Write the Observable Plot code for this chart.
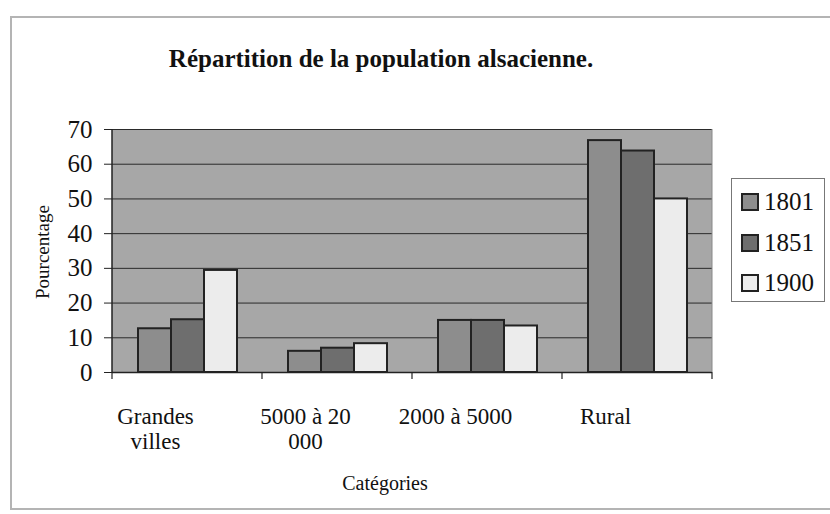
<!DOCTYPE html>
<html>
<head>
<meta charset="utf-8">
<script src="https://cdn.jsdelivr.net/npm/d3@7"></script>
<script src="https://cdn.jsdelivr.net/npm/@observablehq/plot@0.6"></script>
<style>
  html, body { margin: 0; padding: 0; background: #fff; }
  #wrap { position: relative; width: 830px; height: 514px; overflow: hidden; font-family: "Liberation Serif", "Times New Roman", serif; color: #111; }
  #border { position: absolute; left: 10px; top: 16px; width: 822px; height: 494px; border: 2px solid #b4b4b4; border-right: none; box-sizing: border-box; }
  #title { position: absolute; left: 0; width: 762px; top: 45px; text-align: center; font-weight: bold; font-size: 25px; }
  #ylabel { position: absolute; left: 43px; top: 252px; font-size: 19px; transform: translate(-50%, -50%) rotate(-90deg); white-space: nowrap; }
  #xlabel { position: absolute; left: 385px; top: 472px; font-size: 20px; transform: translateX(-50%); white-space: nowrap; }
  #legend { position: absolute; left: 731px; top: 178px; width: 94px; height: 124px; border: 1.5px solid #777; box-sizing: border-box; background: #fff; }
  .item { position: absolute; left: 9px; height: 30px; display: flex; align-items: center; font-size: 25px; font-family: "Liberation Serif", serif; }
  .sw { width: 14px; height: 14px; border: 2px solid #222; margin-right: 5px; }
  #chart { position: absolute; left: 0; top: 0; }
</style>
</head>
<body>
<div id="wrap">
  <div id="border"></div>
  <div id="title">Répartition de la population alsacienne.</div>
  <div id="chart"></div>
  <div id="ylabel">Pourcentage</div>
  <div id="xlabel">Catégories</div>
  <div id="legend"></div>
</div>
<script>
// ---- data ----
const categories = ["Grandes villes", "5000 à 20 000", "2000 à 5000", "Rural"];
const categoryLabels = ["Grandes\nvilles", "5000 à 20\n000", "2000 à 5000", "Rural"];
const years = ["1801", "1851", "1900"];
const values1801 = [12.6, 6.1, 15.0, 66.8];
const values1851 = [15.2, 7.0, 15.0, 63.8];
const values1900 = [29.4, 8.3, 13.4, 50.0];
const yTicks = [0, 10, 20, 30, 40, 50, 60, 70];
const yearColors = ["#8d8d8d", "#6e6e6e", "#ececec"];

const series = [values1801, values1851, values1900];
const data = categories.flatMap((c, i) => years.map((yr, j) => ({category: c, year: yr, value: series[j][i]})));
const labelOf = new Map(categories.map((c, i) => [c, categoryLabels[i]]));

const chart = Plot.plot({
  width: 830,
  height: 514,
  marginLeft: 112,
  marginRight: 118,
  marginTop: 129,
  marginBottom: 142,
  style: {fontFamily: "Liberation Serif, Times New Roman, serif", fontSize: "25px", color: "#111", background: "transparent", overflow: "visible"},
  fx: {domain: categories, padding: 0, axis: null, label: null},
  x: {domain: years, paddingInner: 0, paddingOuter: 0.75, axis: null},
  y: {domain: [0, 70], axis: null},
  color: {domain: years, range: yearColors},
  marks: [
    Plot.ruleY(yTicks.slice(1), {stroke: "#2a2a2a", strokeWidth: 1}),
    Plot.ruleY([0], {stroke: "#222", strokeWidth: 1.5}),
    Plot.barY(data, {fx: "category", x: "year", y: "value", fill: "year", stroke: "#222", strokeWidth: 2}),
    Plot.axisY({ticks: yTicks, tickSize: 8, tickPadding: 12, label: null, fontSize: 25, stroke: "#222"}),
    Plot.axisFx({anchor: "bottom", tickSize: 0, tickPadding: 34, label: null, fontSize: 23, lineHeight: 1.08, dx: -32, tickFormat: d => labelOf.get(d)})
  ]
});
document.getElementById("chart").appendChild(chart);

// plot-area background, left edge and category boundary ticks, from Plot's own scales
const fx = chart.scale("fx");
const ys = chart.scale("y");
const y0 = ys.apply(0), yTop = ys.apply(70);
const bounds = categories.map(c => fx.apply(c)).concat([fx.apply(categories[categories.length - 1]) + fx.step]);
d3.select(chart).insert("rect", ":first-child")
  .attr("x", bounds[0]).attr("y", yTop)
  .attr("width", bounds[bounds.length - 1] - bounds[0]).attr("height", y0 - yTop)
  .attr("fill", "#a7a7a7");
const g = d3.select(chart).append("g").attr("stroke", "#222");
g.append("line").attr("x1", bounds[0]).attr("x2", bounds[0]).attr("y1", yTop).attr("y2", y0).attr("stroke-width", 1.5);
g.append("line").attr("x1", bounds[bounds.length - 1]).attr("x2", bounds[bounds.length - 1]).attr("y1", yTop).attr("y2", y0).attr("stroke", "#888").attr("stroke-width", 1);
g.selectAll("line.tk").data(bounds).join("line").attr("class", "tk")
  .attr("x1", d => d).attr("x2", d => d).attr("y1", y0).attr("y2", y0 + 7).attr("stroke-width", 1.2);

// legend
const legend = document.getElementById("legend");
years.forEach((yr, i) => {
  const it = document.createElement("div");
  it.className = "item";
  it.style.top = (8 + i * 40.5) + "px";
  const sw = document.createElement("div");
  sw.className = "sw";
  sw.style.background = chart.scale("color").apply(yr);
  it.appendChild(sw);
  it.appendChild(document.createTextNode(yr));
  legend.appendChild(it);
});
</script>
</body>
</html>
